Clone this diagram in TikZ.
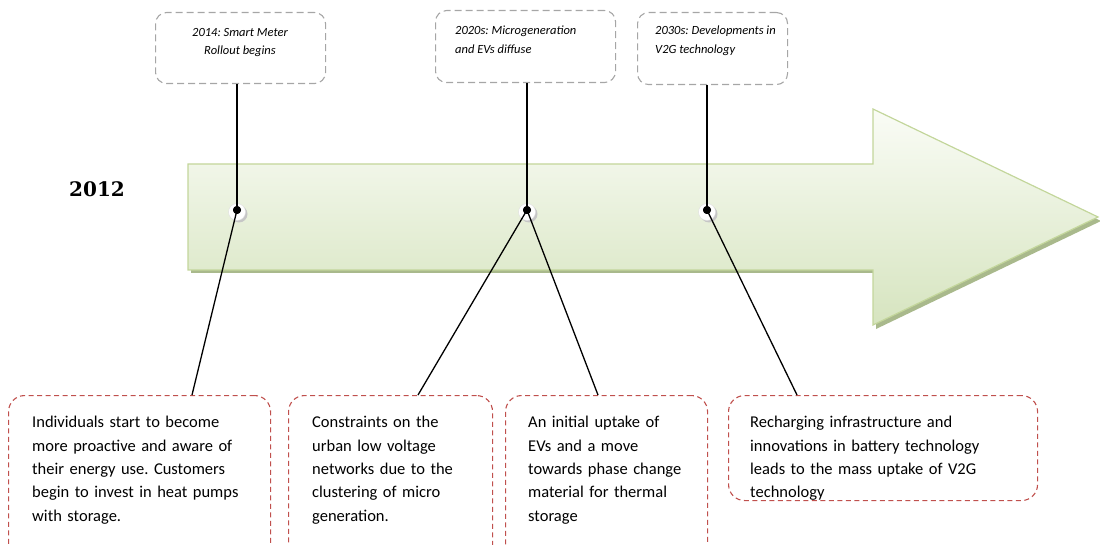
\documentclass[tikz,border=0pt]{standalone}
\usepackage{fontspec}
\setmainfont{Carlito}
\newfontfamily\yearfont{DejaVu Serif}
\usetikzlibrary{calc}
\frenchspacing
\definecolor{arrowtop}{HTML}{FAFCF6}
\definecolor{arrowbot}{HTML}{D6E4BF}
\definecolor{arrowline}{HTML}{C3D69B}
\definecolor{arrowshadow}{HTML}{A9B98C}
\definecolor{topdash}{HTML}{A6A6A6}
\definecolor{botdash}{HTML}{C0504D}
\tikzset{
  topbox/.style={draw=topdash, line width=1.1pt, dash pattern=on 7pt off 4pt, rounded corners=11pt, inner sep=0pt},
  botbox/.style={draw=botdash, line width=1.1pt, dash pattern=on 5pt off 3.5pt, rounded corners=16pt, inner sep=0pt},
  toptext/.style={inner sep=0pt, font=\fontsize{12.5}{18.5}\selectfont\itshape, anchor=north west},
  bottext/.style={inner sep=0pt, font=\fontsize{16.5}{23.4}\selectfont, anchor=north west, align=left},
  link/.style={line width=1.3pt, black},
  ballstyle/.style={circle, minimum size=17pt, inner sep=0pt, fill=white, draw=gray!25},
  dotstyle/.style={circle, minimum size=8pt, inner sep=0pt, fill=black},
}
\begin{document}
\begin{tikzpicture}[x=1pt,y=-1pt]
\useasboundingbox (0,0) rectangle (1100,545);
\clip (0,0) rectangle (1100,545);
% arrow shadow
\fill[arrowshadow] (191,167) -- (876,167) -- (876,112) -- (1101,221) -- (876,329) -- (876,273) -- (191,273) -- cycle;
% arrow
\shade[top color=arrowtop, bottom color=arrowbot, draw=arrowline, line width=1.2pt]
  (188,164) -- (873,164) -- (873,109) -- (1098,217) -- (873,325) -- (873,270) -- (188,270) -- cycle;
\node[font=\yearfont\bfseries\fontsize{20}{24}\selectfont] (year) at (97,189) {2012};

% top boxes
\node[topbox, minimum width=170pt, minimum height=71pt, anchor=north west] (t1) at (155,12) {};
\node[topbox, minimum width=180pt, minimum height=72pt, anchor=north west] (t2) at (435,10) {};
\node[topbox, minimum width=150pt, minimum height=72pt, anchor=north west] (t3) at (637,12) {};
\node[toptext, anchor=north, align=center] (t1x) at (240,28) {2014: Smart Meter\\Rollout begins};
\node[toptext, align=left] (t2x) at (455,26) {2020s: Microgeneration\\and EVs diffuse};
\node[toptext, align=left] (t3x) at (655,26) {2030s: Developments in\\V2G technology};

% balls
\foreach \n/\x in {1/237,2/527,3/707}{
  \fill[gray!45] (\x+2,212+2) circle (8.5pt);
  \node[ballstyle] (b\n) at (\x,212) {};
  \node[dotstyle] (d\n) at (\x,210) {};
}

% bottom boxes
\node[botbox, minimum width=262pt, minimum height=170pt, anchor=north west] (r1) at (8,395) {};
\node[botbox, minimum width=204pt, minimum height=170pt, anchor=north west] (r2) at (288,395) {};
\node[botbox, minimum width=202pt, minimum height=170pt, anchor=north west] (r3) at (505,395) {};
\node[botbox, minimum width=309pt, minimum height=105pt, anchor=north west] (r4) at (728,395) {};
\node[bottext, text width=235pt] (r1x) at (32,416) {Individuals start to become\\more proactive and aware of\\their energy use. Customers\\begin to invest in heat pumps\\with storage.};
\node[bottext, text width=175pt] (r2x) at (312,416) {Constraints on the\\urban low voltage\\networks due to the\\clustering of micro\\generation.};
\node[bottext, text width=175pt] (r3x) at (528,416) {An initial uptake of\\EVs and a move\\towards phase change\\material for thermal\\storage};
\node[bottext, text width=285pt] (r4x) at (750,416) {Recharging infrastructure and\\innovations in battery technology\\leads to the mass uptake of V2G\\technology};

% connectors
\coordinate (c1) at (192,395);
\coordinate (c2) at (418,395);
\coordinate (c3) at (598,395);
\coordinate (c4) at (797,395);
\draw[link] (d1) -- (d1 |- t1.south);
\draw[link] (d2) -- (d2 |- t2.south);
\draw[link] (d3) -- (d3 |- t3.south);
\draw[link] (d1.center) -- (c1);
\draw[link] (d2.center) -- (c2);
\draw[link] (d2.center) -- (c3);
\draw[link] (d3.center) -- (c4);
\foreach \n in {1,2,3}{\node[dotstyle] at (d\n) {};}
\end{tikzpicture}
\end{document}
